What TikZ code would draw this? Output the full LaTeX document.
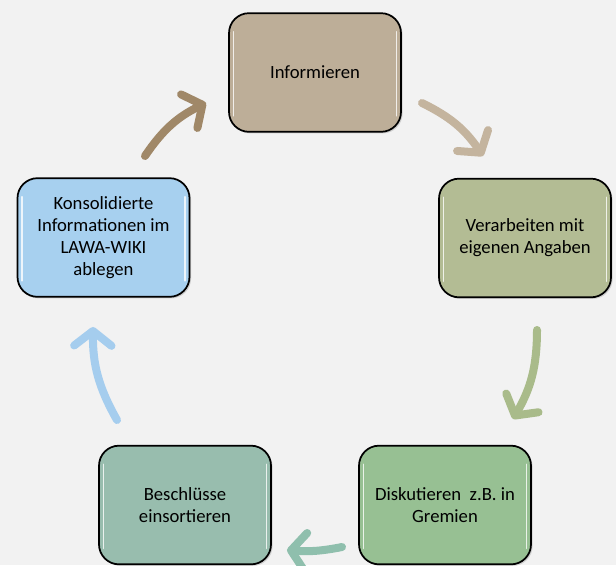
\documentclass[tikz,border=0pt]{standalone}
\usepackage{fontspec}
\setmainfont{Carlito}
\usetikzlibrary{arrows.meta,shadows}
\definecolor{bgcol}{HTML}{F2F2F2}
\definecolor{infocol}{HTML}{BDAE98}
\definecolor{verarbcol}{HTML}{B3BC94}
\definecolor{diskcol}{HTML}{97C093}
\definecolor{beschlcol}{HTML}{98BDAE}
\definecolor{wikicol}{HTML}{A7D0EF}
\definecolor{arrowa}{HTML}{A08868}
\definecolor{arrowb}{HTML}{C4B49E}
\definecolor{arrowc}{HTML}{A9BB8A}
\definecolor{arrowd}{HTML}{8FBFAD}
\definecolor{arrowe}{HTML}{A5CDEE}
\begin{document}
\begin{tikzpicture}[x=0.75pt,y=-0.75pt,
    stage/.style={draw=black, line width=1.3pt, rounded corners=15pt,
        minimum width=129pt, minimum height=89pt, align=center,
        font=\fontsize{14}{16.5}\selectfont,
        drop shadow={shadow xshift=1.2pt, shadow yshift=-1.2pt, opacity=0.3},
        path picture={
            \draw[white, opacity=0.8, line width=1.2pt, line cap=round]
                ([xshift=3.5pt,yshift=-14pt]path picture bounding box.north west)
                -- ([xshift=3.5pt,yshift=12pt]path picture bounding box.south west);
            \draw[white, opacity=0.8, line width=1.2pt, line cap=round]
                ([xshift=-3.5pt,yshift=-14pt]path picture bounding box.north east)
                -- ([xshift=-3.5pt,yshift=12pt]path picture bounding box.south east);
        }},
    flow/.style={line width=6pt, line cap=round,
        -{Straight Barb[length=11pt,width=28pt,round]}}]
    \useasboundingbox (0,0) rectangle (616,565);
    \fill[bgcol] (0,0) rectangle (616,565);
    \node[stage, fill=infocol] (info) at (315,72.5) {Informieren};
    \node[stage, fill=verarbcol] (verarb) at (525,238) {Verarbeiten mit\\eigenen Angaben};
    \node[stage, fill=diskcol] (disk) at (445,505) {Diskutieren~ z.B. in\\Gremien};
    \node[stage, fill=beschlcol] (beschl) at (185,505) {Beschlüsse\\einsortieren};
    \node[stage, fill=wikicol] (wiki) at (103.5,237.5) {Konsolidierte\\Informationen im\\LAWA-WIKI\\ablegen};
    \coordinate (wikiout) at (145,156);
    \coordinate (infoin) at (206,103);
    \coordinate (infoout) at (422,103);
    \coordinate (verarbin) at (483,156);
    \coordinate (verarbout) at (537,330);
    \coordinate (diskin) at (513,419);
    \coordinate (diskout) at (342,547);
    \coordinate (beschlin) at (287,550);
    \coordinate (beschlout) at (117,420);
    \coordinate (wikiin) at (93,327);
    \draw[flow, arrowa] (wikiout) to[bend left=15] (infoin);
    \draw[flow, arrowb] (infoout) to[bend left=15] (verarbin);
    \draw[flow, arrowc] (verarbout) to[bend left=15] (diskin);
    \draw[flow, arrowd] (diskout) to[bend left=8] (beschlin);
    \draw[flow, arrowe] (beschlout) to[bend left=15] (wikiin);
\end{tikzpicture}
\end{document}
